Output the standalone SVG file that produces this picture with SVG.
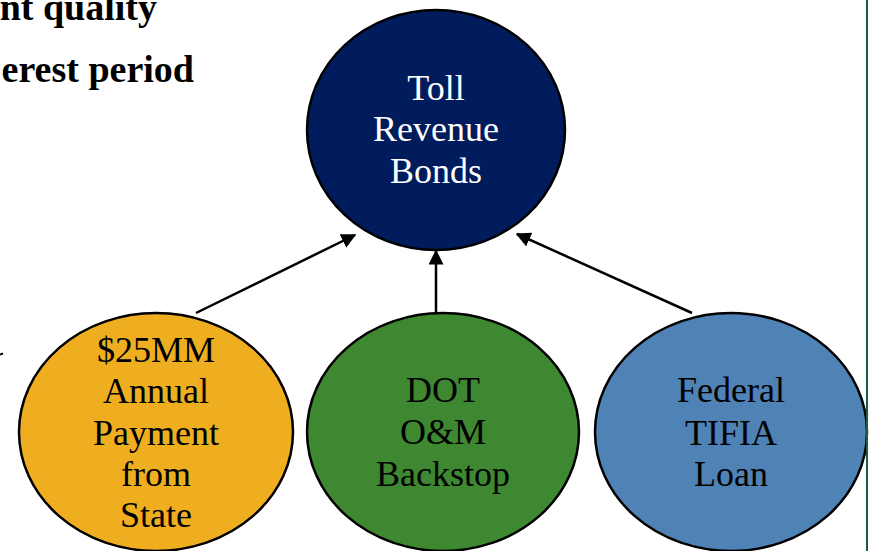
<svg xmlns="http://www.w3.org/2000/svg" width="873" height="551" viewBox="0 0 873 551">
<style>
.node{stroke:#000;stroke-width:2.5}
.lbl{font-family:"Liberation Serif","Times New Roman",serif;font-size:36px;text-anchor:middle}
.head{font-family:"Liberation Serif","Times New Roman",serif;font-size:38px;font-weight:bold;text-anchor:end;fill:#000}
.conn{stroke:#000;stroke-width:2.5;fill:none;marker-end:url(#arr)}
</style>
<defs>
<marker id="arr" viewBox="0 0 10 10" refX="9" refY="5" markerWidth="6" markerHeight="6" orient="auto" markerUnits="strokeWidth">
<path d="M0,0 L10,5 L0,10 z" fill="#000"/>
</marker>
</defs>
<rect width="873" height="551" fill="#fff"/>
<text class="head" x="157" y="20">nt quality</text>
<text class="head" x="194" y="82">erest period</text>
<line x1="0" y1="354.5" x2="3" y2="353.5" stroke="#000" stroke-width="2"/>
<g id="connectors">
<line class="conn" x1="196" y1="313" x2="355" y2="235"/>
<line class="conn" x1="436" y1="313" x2="436" y2="251"/>
<line class="conn" x1="692" y1="313" x2="517" y2="234"/>
</g>
<g id="toll">
<ellipse class="node" cx="436" cy="130" rx="129" ry="120" fill="#001c5c"/>
<text class="lbl" fill="#fff"><tspan x="436" y="100">Toll</tspan><tspan x="436" y="141">Revenue</tspan><tspan x="436" y="183">Bonds</tspan></text>
</g>
<g id="state">
<ellipse class="node" cx="156" cy="432" rx="137" ry="119" fill="#efae20"/>
<text class="lbl" fill="#000"><tspan x="156" y="362">$25MM</tspan><tspan x="156" y="403">Annual</tspan><tspan x="156" y="445">Payment</tspan><tspan x="156" y="486">from</tspan><tspan x="156" y="527">State</tspan></text>
</g>
<g id="dot">
<ellipse class="node" cx="443" cy="432" rx="136" ry="119" fill="#3e8832"/>
<text class="lbl" fill="#000"><tspan x="443" y="402">DOT</tspan><tspan x="443" y="444">O&amp;M</tspan><tspan x="443" y="486">Backstop</tspan></text>
</g>
<g id="tifia">
<ellipse class="node" cx="731" cy="432" rx="136" ry="119" fill="#4f82b5"/>
<text class="lbl" fill="#000"><tspan x="731" y="402">Federal</tspan><tspan x="731" y="445">TIFIA</tspan><tspan x="731" y="486">Loan</tspan></text>
</g>
<line x1="867" y1="0" x2="867" y2="551" stroke="#1e5b3e" stroke-width="2"/>
</svg>
